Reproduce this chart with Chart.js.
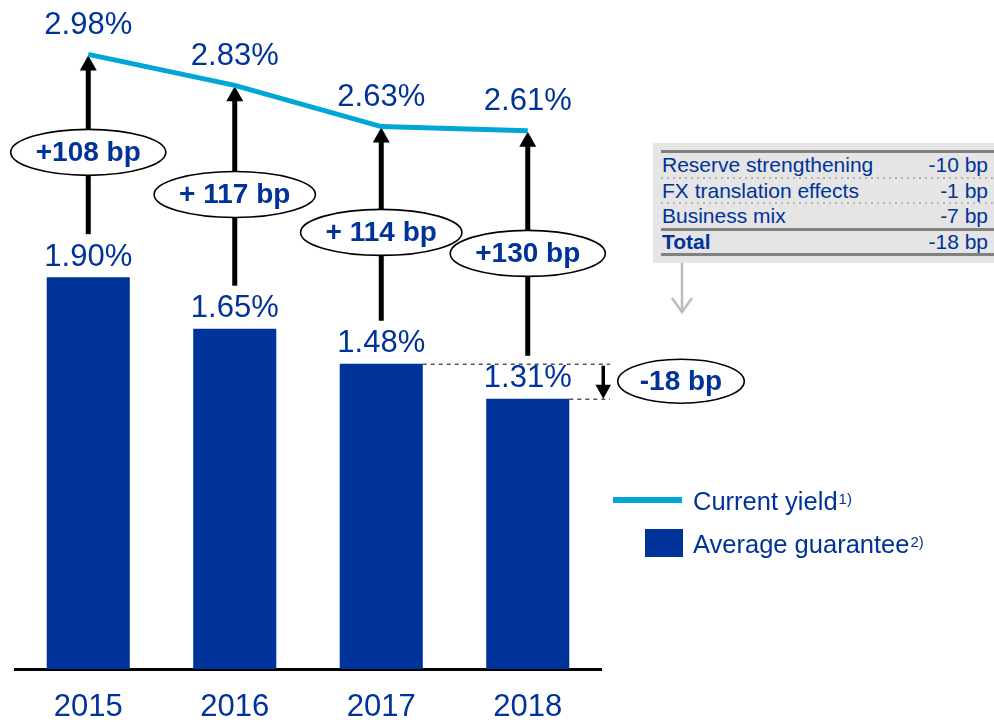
<!DOCTYPE html>
<html>
<head>
<meta charset="utf-8">
<script src="https://cdn.jsdelivr.net/npm/chart.js@4.4.1/dist/chart.umd.min.js"></script>
<style>
  html, body { margin:0; padding:0; background:#fff; }
  body { width:994px; height:722px; position:relative; overflow:hidden; font-family:"Liberation Sans", Arial, sans-serif; color:#003399; }
  #c { position:absolute; left:0; top:0; }
  .abs { position:absolute; white-space:nowrap; }
  sup { font-size:15px; line-height:15px; vertical-align:top; position:relative; top:6px; margin-left:1px; }
</style>
</head>
<body>
<canvas id="c" width="994" height="722"></canvas>
<div id="box" class="abs" style="left:653px;top:143px;width:341px;height:120px;background:#e5e5e5;"></div>
<div id="tbl"></div>
<svg class="abs" style="left:670px;top:262px;" width="24" height="54">
  <line x1="12" y1="1" x2="12" y2="50" stroke="#bdbdbd" stroke-width="2.5"/>
  <polyline points="2,36 12,50 22,36" fill="none" stroke="#bdbdbd" stroke-width="2.5"/>
</svg>
<div id="legend"></div>
<script>
const years = ['2015', '2016', '2017', '2018'];
const currentYield = [2.98, 2.83, 2.63, 2.61];
const avgGuarantee = [1.90, 1.65, 1.48, 1.31];
const yieldLabels = ['2.98%', '2.83%', '2.63%', '2.61%'];
const guaranteeLabels = ['1.90%', '1.65%', '1.48%', '1.31%'];
const spreadLabels = ['+108 bp', '+ 117 bp', '+ 114 bp', '+130 bp'];
const changeLabel = '-18 bp';
const tableItems = ['Reserve strengthening', 'FX translation effects', 'Business mix', 'Total'];
const tableValues = ['-10 bp', '-1 bp', '-7 bp', '-18 bp'];
const legendNames = ['Current yield', 'Average guarantee'];
const legendNotes = ['1)', '2)'];

const BLUE = '#003399';
const CYAN = '#00a6d6';
const FONT = '"Liberation Sans", Arial, sans-serif';

// ---- table (HTML) ----
(function(){
  const t = document.getElementById('tbl');
  const rowTop = 152, rowH = 25.5;
  let html = '<div class="abs" style="left:661px;top:150px;width:333px;height:3px;background:#808080"></div>';
  tableItems.forEach((name, i) => {
    const top = rowTop + i * rowH;
    const bold = i === tableItems.length - 1 ? 'font-weight:bold;' : '';
    html += '<div class="abs" style="left:662px;top:' + (top) + 'px;height:' + rowH + 'px;line-height:' + rowH + 'px;font-size:21px;' + bold + '">' + name + '</div>';
    html += '<div class="abs" style="right:6px;top:' + (top) + 'px;height:' + rowH + 'px;line-height:' + rowH + 'px;font-size:21px;text-align:right">' + tableValues[i] + '</div>';
    const lineY = top + rowH - 1;
    if (i < 2) {
      html += '<div class="abs" style="left:661px;top:' + lineY + 'px;width:333px;height:2px;background-image:repeating-linear-gradient(90deg,#b5b5b5 0 2px,transparent 2px 6px)"></div>';
    } else {
      html += '<div class="abs" style="left:661px;top:' + lineY + 'px;width:333px;height:3px;background:#808080"></div>';
    }
  });
  t.innerHTML = html;
})();

// ---- legend (HTML) ----
(function(){
  const l = document.getElementById('legend');
  let html = '';
  html += '<div class="abs" style="left:613px;top:497px;width:69px;height:6px;background:' + CYAN + '"></div>';
  html += '<div class="abs" style="left:693px;top:485px;height:32px;line-height:32px;font-size:25.5px">' + legendNames[0] + '<sup>' + legendNotes[0] + '</sup></div>';
  html += '<div class="abs" style="left:645px;top:529px;width:38px;height:28px;background:' + BLUE + '"></div>';
  html += '<div class="abs" style="left:693px;top:528px;height:32px;line-height:32px;font-size:25.5px">' + legendNames[1] + '<sup>' + legendNotes[1] + '</sup></div>';
  l.innerHTML = html;
})();

function ellipse(ctx, cx, cy, w, h) {
  ctx.beginPath();
  ctx.ellipse(cx, cy, w / 2, h / 2, 0, 0, Math.PI * 2);
  ctx.fillStyle = '#fff';
  ctx.fill();
  ctx.lineWidth = 1.6;
  ctx.strokeStyle = '#000';
  ctx.stroke();
}

const annot = {
  id: 'annot',
  beforeDatasetsDraw(chart) {
    const { ctx, scales: { x, y } } = chart;
    ctx.save();
    ctx.fillStyle = '#000';
    years.forEach((_, i) => {
      const px = x.getPixelForValue(i);
      const top = y.getPixelForValue(currentYield[i]);
      const bottom = y.getPixelForValue(avgGuarantee[i]) - 43;
      ctx.fillRect(px - 2.5, top + 14, 5, bottom - top - 14);
      ctx.beginPath();
      ctx.moveTo(px, top + 1);
      ctx.lineTo(px - 8.5, top + 16);
      ctx.lineTo(px + 8.5, top + 16);
      ctx.closePath();
      ctx.fill();
    });
    ctx.restore();
  },
  afterDatasetsDraw(chart) {
    const { ctx, chartArea, scales: { x, y } } = chart;
    const bars = chart.getDatasetMeta(0).data;
    ctx.save();
    ctx.textAlign = 'center';
    ctx.textBaseline = 'middle';
    // value labels
    ctx.fillStyle = BLUE;
    ctx.font = '31px ' + FONT;
    years.forEach((_, i) => {
      const px = x.getPixelForValue(i);
      ctx.fillText(yieldLabels[i], px, y.getPixelForValue(currentYield[i]) - 29);
      ctx.fillText(guaranteeLabels[i], px, y.getPixelForValue(avgGuarantee[i]) - 20);
    });
    // spread ellipses
    ctx.font = 'bold 28px ' + FONT;
    years.forEach((_, i) => {
      const px = x.getPixelForValue(i);
      const top = y.getPixelForValue(currentYield[i]);
      const bottom = y.getPixelForValue(avgGuarantee[i]) - 43;
      const cy = top + 0.545 * (bottom - top);
      const w = ctx.measureText(spreadLabels[i]).width + 50;
      ellipse(ctx, px, cy, w, 46);
      ctx.fillStyle = BLUE;
      ctx.fillText(spreadLabels[i], px, cy + 1);
    });
    // dashed guide lines between last two bars
    const n = bars.length;
    const b3 = bars[n - 2], b4 = bars[n - 1];
    const xEnd = chartArea.right + 9;
    ctx.setLineDash([4, 4]);
    ctx.lineWidth = 1.5;
    ctx.strokeStyle = '#555';
    ctx.beginPath();
    ctx.moveTo(b3.x + b3.width / 2, b3.y + 0.5);
    ctx.lineTo(xEnd, b3.y + 0.5);
    ctx.moveTo(b4.x + b4.width / 2, b4.y + 0.5);
    ctx.lineTo(xEnd, b4.y + 0.5);
    ctx.stroke();
    ctx.setLineDash([]);
    // down arrow
    const ax = chartArea.right + 2;
    ctx.fillStyle = '#000';
    ctx.fillRect(ax - 1.5, b3.y + 2, 3.5, b4.y - b3.y - 12);
    ctx.beginPath();
    ctx.moveTo(ax + 0.25, b4.y);
    ctx.lineTo(ax - 7.5, b4.y - 14);
    ctx.lineTo(ax + 8, b4.y - 14);
    ctx.closePath();
    ctx.fill();
    // change ellipse
    const cy = (b3.y + b4.y) / 2;
    const cx = chartArea.right + 80;
    const w = ctx.measureText(changeLabel).width + 44;
    ellipse(ctx, cx, cy, w, 44);
    ctx.fillStyle = BLUE;
    ctx.fillText(changeLabel, cx, cy + 1);
    ctx.restore();
  }
};

new Chart(document.getElementById('c'), {
  data: {
    labels: years,
    datasets: [
      {
        type: 'bar',
        label: legendNames[1],
        data: avgGuarantee,
        backgroundColor: BLUE,
        borderWidth: 0,
        categoryPercentage: 1,
        barPercentage: 0.567
      },
      {
        type: 'line',
        label: legendNames[0],
        data: currentYield,
        borderColor: CYAN,
        borderWidth: 5,
        pointRadius: 0,
        tension: 0,
        fill: false
      }
    ]
  },
  options: {
    responsive: false,
    animation: false,
    layout: { padding: { left: 15, right: 393, top: 9, bottom: 0 } },
    plugins: { legend: { display: false }, tooltip: { enabled: false } },
    scales: {
      y: { display: false, min: 0, max: 3.2 },
      x: {
        grid: { display: false, drawTicks: false },
        border: { display: true, color: '#000', width: 3 },
        ticks: { color: BLUE, font: { size: 31, family: FONT }, padding: 20 },
        afterFit(s) { s.height = 53; }
      }
    }
  },
  plugins: [annot]
});
</script>
</body>
</html>
